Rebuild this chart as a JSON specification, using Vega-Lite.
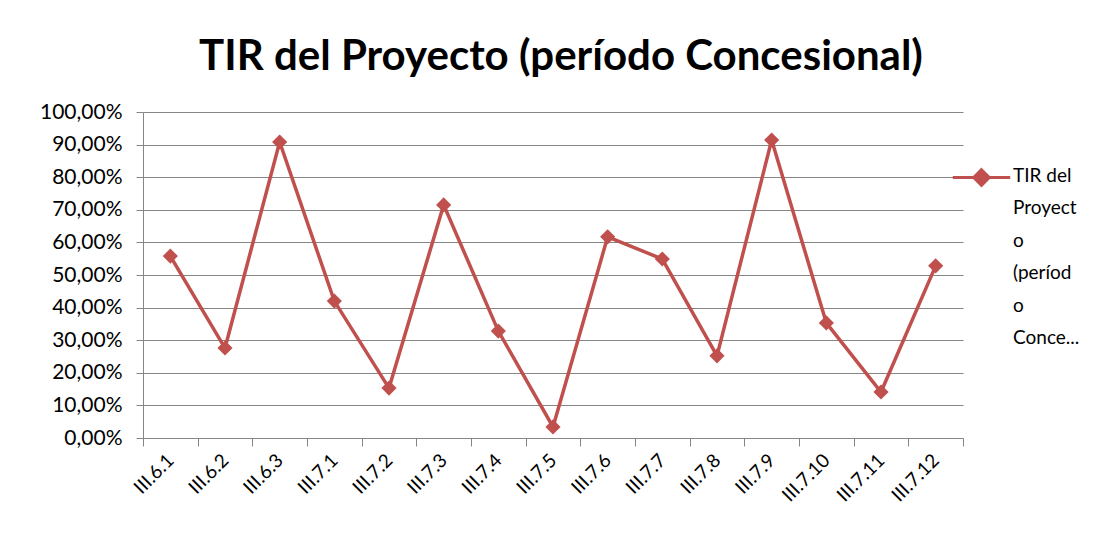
{
  "$schema": "https://vega.github.io/schema/vega-lite/v6.json",
  "width": 820,
  "height": 326,
  "autosize": {"type": "none"},
  "padding": {"left": 143, "top": 112, "right": 157, "bottom": 120},
  "background": "white",
  "title": {
    "text": "TIR del Proyecto (período Concesional)",
    "font": "Lato",
    "fontSize": 42,
    "fontWeight": "bold",
    "color": "#000000",
    "anchor": "middle",
    "offset": 22,
    "dx": 8
  },
  "data": {
    "values": [
      {"c": "III.6.1", "v": 0.558, "s": "TIR del Proyecto (período Concesional)"},
      {"c": "III.6.2", "v": 0.276, "s": "TIR del Proyecto (período Concesional)"},
      {"c": "III.6.3", "v": 0.908, "s": "TIR del Proyecto (período Concesional)"},
      {"c": "III.7.1", "v": 0.420, "s": "TIR del Proyecto (período Concesional)"},
      {"c": "III.7.2", "v": 0.153, "s": "TIR del Proyecto (período Concesional)"},
      {"c": "III.7.3", "v": 0.715, "s": "TIR del Proyecto (período Concesional)"},
      {"c": "III.7.4", "v": 0.328, "s": "TIR del Proyecto (período Concesional)"},
      {"c": "III.7.5", "v": 0.034, "s": "TIR del Proyecto (período Concesional)"},
      {"c": "III.7.6", "v": 0.617, "s": "TIR del Proyecto (período Concesional)"},
      {"c": "III.7.7", "v": 0.549, "s": "TIR del Proyecto (período Concesional)"},
      {"c": "III.7.8", "v": 0.252, "s": "TIR del Proyecto (período Concesional)"},
      {"c": "III.7.9", "v": 0.914, "s": "TIR del Proyecto (período Concesional)"},
      {"c": "III.7.10", "v": 0.353, "s": "TIR del Proyecto (período Concesional)"},
      {"c": "III.7.11", "v": 0.141, "s": "TIR del Proyecto (período Concesional)"},
      {"c": "III.7.12", "v": 0.528, "s": "TIR del Proyecto (período Concesional)"}
    ]
  },
  "mark": {
    "type": "line",
    "strokeWidth": 3.5,
    "point": {"shape": "diamond", "size": 230, "filled": true, "opacity": 1}
  },
  "encoding": {
    "x": {
      "field": "c",
      "type": "ordinal",
      "sort": null,
      "title": null,
      "scale": {"paddingInner": 0, "paddingOuter": 0},
      "axis": {
        "labelAngle": -45,
        "labelAlign": "right",
        "labelBaseline": "middle",
        "labelFont": "Lato",
        "labelFontSize": 19,
        "labelColor": "#000000",
        "labelPadding": 11,
        "tickBand": "extent",
        "tickSize": 8,
        "tickColor": "#868686",
        "domainColor": "#868686",
        "grid": false
      }
    },
    "y": {
      "field": "v",
      "type": "quantitative",
      "title": null,
      "scale": {"domain": [0, 1]},
      "axis": {
        "values": [0, 0.1, 0.2, 0.3, 0.4, 0.5, 0.6, 0.7, 0.8, 0.9, 1],
        "labelExpr": "replace(format(datum.value, '.2%'), '.', ',')",
        "labelFont": "Lato",
        "labelFontSize": 21,
        "labelColor": "#000000",
        "labelPadding": 14,
        "tickSize": 7,
        "tickColor": "#868686",
        "domainColor": "#868686",
        "grid": true,
        "gridColor": "#868686",
        "gridWidth": 1
      }
    },
    "color": {
      "field": "s",
      "type": "nominal",
      "scale": {"range": ["#C0504D"]},
      "legend": {
        "title": null,
        "orient": "none",
        "legendX": 808,
        "legendY": 35,
        "symbolType": "M-1,0H1M0,-0.27L0.27,0L0,0.27L-0.27,0Z",
        "symbolSize": 3300,
        "symbolStrokeWidth": 3,
        "symbolFillColor": "#C0504D",
        "symbolStrokeColor": "#C0504D",
        "labelExpr": "['TIR del', 'Proyect', 'o', '(períod', 'o', 'Conce...']",
        "labelFont": "Lato",
        "labelFontSize": 19,
        "labelColor": "#000000",
        "labelBaseline": "top",
        "labelOffset": 1,
        "labelLimit": 200,
        "padding": 0,
        "encode": {
          "labels": {"update": {"lineHeight": {"value": 32.5}, "dy": {"value": -11}}}
        }
      }
    }
  },
  "config": {
    "view": {"stroke": null}
  }
}
